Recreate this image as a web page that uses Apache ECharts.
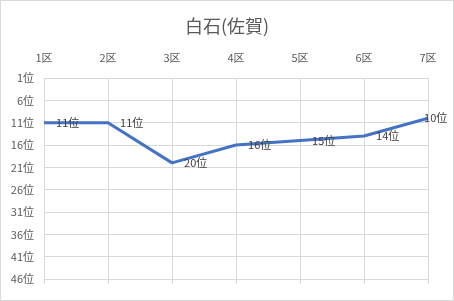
<!DOCTYPE html>
<html><head><meta charset="utf-8">
<script src="https://cdn.jsdelivr.net/npm/echarts@6/dist/echarts.min.js"></script>
<style>html,body{margin:0;padding:0;background:#fff}#c{width:454px;height:301px}</style>
</head><body><div id="c"></div>
<script>
var categories = ['1区','2区','3区','4区','5区','6区','7区'];
var ranks = [11, 11, 20, 16, 15, 14, 10];
var rankTicks = [1, 6, 11, 16, 21, 26, 31, 36, 41, 46];

var font = '"Noto Sans CJK JP", "Noto Sans", sans-serif';
var chart = echarts.init(document.getElementById('c'), null, {renderer: 'canvas'});
var seriesData = ranks.map(function (v, i) {
  var d = {value: v};
  if (i === ranks.length - 1) {
    d.label = {offset: [-16, 0]};
  }
  return d;
});
chart.setOption({
  backgroundColor: '#fff',
  animation: false,
  title: {
    text: '白石(佐賀)', left: 'center', top: 12,
    textStyle: {fontSize: 18, fontWeight: 'normal', color: '#595959', fontFamily: font}
  },
  graphic: [{
    type: 'rect', shape: {x: 0.5, y: 0.5, width: 453, height: 300},
    style: {fill: 'none', stroke: '#d9d9d9', lineWidth: 1}, silent: true
  }],
  grid: {left: 44, right: 26, top: 78, bottom: 22, containLabel: false},
  xAxis: [{
    type: 'category', data: categories, boundaryGap: false, position: 'top',
    axisLine: {show: false}, axisTick: {show: false},
    axisLabel: {color: '#595959', fontSize: 11, margin: 15, fontFamily: font},
    splitLine: {show: true, lineStyle: {color: '#d9d9d9', width: 1}}
  }, {
    type: 'category', data: categories, boundaryGap: false, position: 'bottom',
    axisLine: {show: true, lineStyle: {color: '#d9d9d9'}},
    axisTick: {show: true, length: 5, lineStyle: {color: '#d9d9d9'}},
    axisLabel: {show: false}, splitLine: {show: false}
  }],
  yAxis: {
    type: 'value', inverse: true, min: 1, max: 46,
    axisLine: {show: false}, axisTick: {show: false, customValues: rankTicks},
    axisLabel: {customValues: rankTicks, color: '#595959', fontSize: 11, margin: 10,
      fontFamily: font, formatter: function (v) { return v + '位'; }},
    splitLine: {show: true, lineStyle: {color: '#d9d9d9', width: 1}}
  },
  series: [{
    type: 'line', data: seriesData, xAxisIndex: 0, showSymbol: true, symbol: 'circle', symbolSize: 0.1,
    lineStyle: {color: '#4472C4', width: 3},
    itemStyle: {color: '#4472C4'},
    label: {show: true, position: 'right', distance: 12, color: '#404040', fontSize: 11,
      fontFamily: font, formatter: function (p) { return p.value + '位'; }}
  }]
});
</script></body></html>
